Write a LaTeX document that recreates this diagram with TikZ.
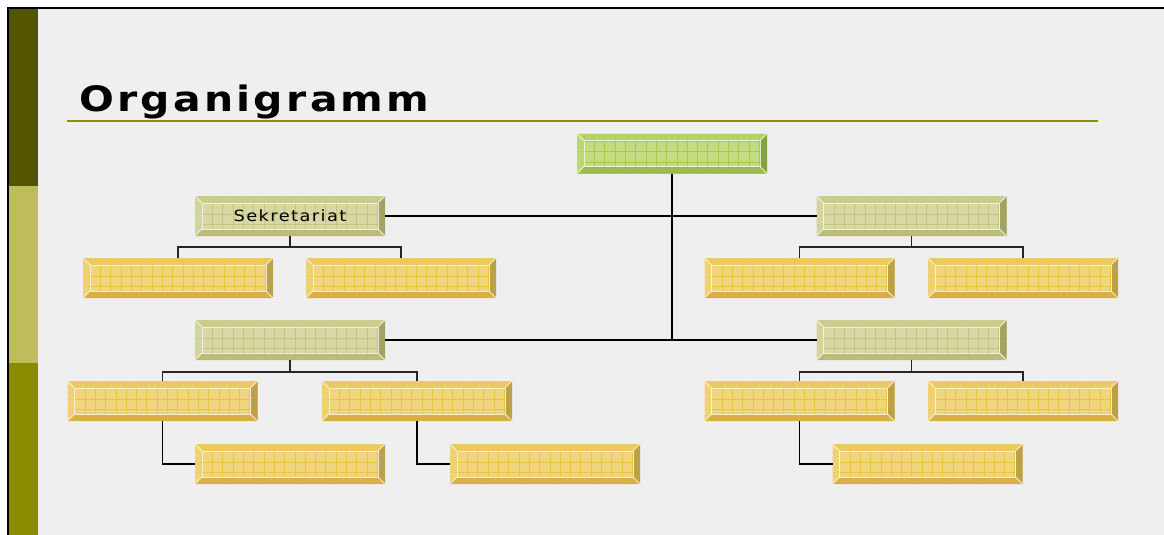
\documentclass[tikz,border=0pt]{standalone}
\usepackage{graphicx}
\usepackage{fontspec}
\setmainfont{DejaVu Sans}
\newfontfamily\titlefont[LetterSpace=8]{DejaVu Sans}
\newfontfamily\boxfont[LetterSpace=8]{DejaVu Sans}
\usetikzlibrary{calc}

% slide colours
\definecolor{slidebg}{HTML}{EFEFEF}
\definecolor{bardark}{HTML}{545400}
\definecolor{barlight}{HTML}{BDBD5B}
\definecolor{barmid}{HTML}{8B8B00}
\definecolor{ruleol}{HTML}{8E8E10}
% green box
\definecolor{gface}{HTML}{C3DC82}
\definecolor{ggrid}{HTML}{9CC337}
\definecolor{gtop}{HTML}{B0D258}
\definecolor{gleft}{HTML}{BCD870}
\definecolor{gright}{HTML}{7E9E3A}
\definecolor{gbot}{HTML}{9AB948}
% khaki box
\definecolor{kface}{HTML}{D8D8A4}
\definecolor{kgrid}{HTML}{BDBD74}
\definecolor{ktop}{HTML}{CACA8C}
\definecolor{kleft}{HTML}{D4D49C}
\definecolor{kright}{HTML}{9E9E5E}
\definecolor{kbot}{HTML}{B9B977}
% yellow box
\definecolor{yface}{HTML}{F0D57F}
\definecolor{ygrid}{HTML}{EDBE20}
\definecolor{ytop}{HTML}{EDC75A}
\definecolor{yleft}{HTML}{F0D070}
\definecolor{yright}{HTML}{B89B45}
\definecolor{ybot}{HTML}{D6AE40}

\tikzset{
  orgbox/.style={
    minimum width=190pt, minimum height=40pt, inner sep=0pt, outer sep=0pt,
    fill=#1face,
    path picture={
      \path (path picture bounding box.north west) coordinate (pA)
            (path picture bounding box.north east) coordinate (pB)
            (path picture bounding box.south east) coordinate (pC)
            (path picture bounding box.south west) coordinate (pD);
      % grid texture
      \foreach \k in {1,...,19}
        \draw[#1grid, line width=1pt, opacity=0.7]
          ($(pA)+(\k*10.3pt-3pt,0pt)$) -- ($(pD)+(\k*10.3pt-3pt,0pt)$);
      \foreach \k in {1,...,4}
        \draw[#1grid, line width=1pt, opacity=0.7]
          ($(pA)+(0pt,-\k*10.5pt+3pt)$) -- ($(pB)+(0pt,-\k*10.5pt+3pt)$);
      % bevelled rim
      \fill[#1top, opacity=0.8] (pA) -- (pB) -- ($(pB)+(-7pt,-7pt)$) -- ($(pA)+(7pt,-7pt)$) -- cycle;
      \fill[#1left, opacity=0.8] (pA) -- ($(pA)+(7pt,-7pt)$) -- ($(pD)+(7pt,7pt)$) -- (pD) -- cycle;
      \fill[#1right, opacity=0.9] (pB) -- (pC) -- ($(pC)+(-7pt,7pt)$) -- ($(pB)+(-7pt,-7pt)$) -- cycle;
      \fill[#1bot, opacity=0.9] (pD) -- ($(pD)+(7pt,7pt)$) -- ($(pC)+(-7pt,7pt)$) -- (pC) -- cycle;
      % highlights
      \draw[white, opacity=0.75, line width=0.9pt]
        ($(pA)+(7pt,-7pt)$) rectangle ($(pC)+(-7pt,7pt)$);
      \draw[white, opacity=0.75, line width=0.8pt]
        (pA) -- ($(pA)+(7pt,-7pt)$) (pB) -- ($(pB)+(-7pt,-7pt)$)
        (pC) -- ($(pC)+(-7pt,7pt)$) (pD) -- ($(pD)+(7pt,7pt)$);
    }
  },
  link/.style={draw=black, line width=1.2pt},
  sublink/.style={draw=black!85, line width=1.2pt}
}

\begin{document}
\begin{tikzpicture}[x=1pt, y=-1pt]
  \useasboundingbox (0,0) rectangle (1164,535);
  \fill[white] (0,0) rectangle (1164,535);
  \fill[slidebg] (8,8) rectangle (1164,535);

  % side bar
  \fill[bardark]  (9,9)   rectangle (38,186);
  \fill[barlight] (9,186) rectangle (38,363);
  \fill[barmid]   (9,363) rectangle (38,535);
  \draw[black, line width=1.4pt] (8,535) -- (8,8) -- (1164,8);

  % title and rule
  \node[anchor=base west, inner sep=0pt] (title) at (79,111)
    {\scalebox{1.17}[1]{\titlefont\bfseries\fontsize{35}{40}\selectfont Organigramm}};
  \draw[ruleol, line width=2pt] (67,121) coordinate (r0) -- (1098,121) coordinate (r1);

  % boxes
  \node[orgbox=g] (top) at (672,153.5) {};
  \node[orgbox=k] (sek) at (290,216)
    {\scalebox{1.15}[1]{\boxfont\fontsize{15.5}{18}\selectfont Sekretariat}};
  \node[orgbox=k] (r2)  at (911.5,216) {};
  \node[orgbox=y] (l3a) at (178,278) {};
  \node[orgbox=y] (l3b) at (401,278) {};
  \node[orgbox=y] (r3a) at (799.5,278) {};
  \node[orgbox=y] (r3b) at (1023,278) {};
  \node[orgbox=k] (l2b) at (290,340) {};
  \node[orgbox=k] (r2b) at (911.5,340) {};
  \node[orgbox=y] (l4a) at (162.5,401) {};
  \node[orgbox=y] (l4b) at (417,401) {};
  \node[orgbox=y] (r4a) at (799.5,401) {};
  \node[orgbox=y] (r4b) at (1023,401) {};
  \node[orgbox=y] (l5a) at (290,464) {};
  \node[orgbox=y] (l5b) at (545,464) {};
  \node[orgbox=y] (r5a) at (927.5,464) {};

  % main trunk
  \draw[link] (top.south) -- (top.south |- l2b.east);
  \draw[link] (sek.east) -- (r2.west);
  \draw[link] (l2b.east) -- (r2b.west);

  % branch junctions
  \coordinate (jsek) at ($(sek.south)+(0,11)$);
  \coordinate (jr2)  at ($(r2.south)+(0,11)$);
  \coordinate (jl2b) at ($(l2b.south)+(0,12)$);
  \coordinate (jr2b) at ($(r2b.south)+(0,12)$);

  \draw[sublink] (sek.south) -- (jsek);
  \draw[sublink] (l3a.north) |- (jsek) -| (l3b.north);
  \draw[sublink] (r2.south) -- (jr2);
  \draw[sublink] (r3a.north) |- (jr2) -| (r3b.north);
  \draw[sublink] (l2b.south) -- (jl2b);
  \draw[sublink] (l4a.north) |- (jl2b) -| (l4b.north);
  \draw[sublink] (r2b.south) -- (jr2b);
  \draw[sublink] (r4a.north) |- (jr2b) -| (r4b.north);

  % assistant links
  \draw[link] (l4a.south) |- (l5a.west);
  \draw[link] (l4b.south) |- (l5b.west);
  \draw[link] (r4a.south) |- (r5a.west);
\end{tikzpicture}
\end{document}
